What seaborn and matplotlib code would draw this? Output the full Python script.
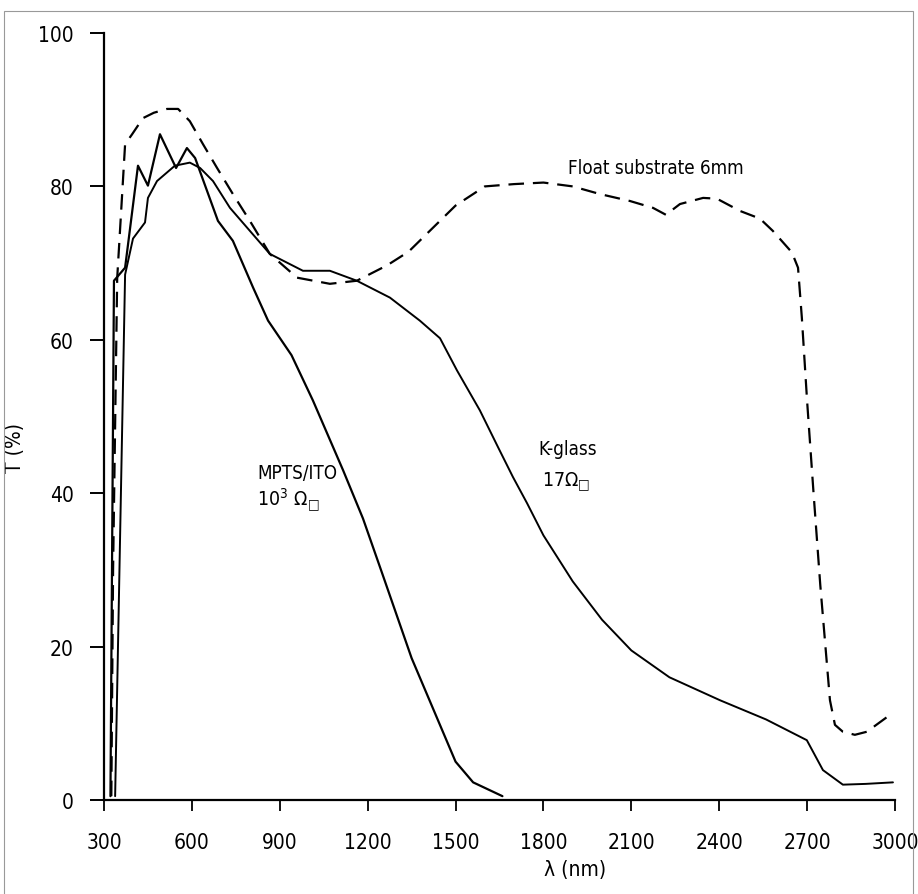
import numpy as np
import pandas as pd
import matplotlib
matplotlib.use("Agg")
import matplotlib.pyplot as plt
import seaborn as sns
from matplotlib.patches import Rectangle

# --- data (wavelength nm, transmission %) ---
float_x = [325, 331, 345, 372, 396, 433, 470, 515, 553, 593, 638, 686, 740, 798,
           866, 959, 1071, 1163, 1266, 1340, 1420, 1500, 1600, 1700, 1800, 1900,
           1993, 2095, 2174, 2218, 2266, 2345, 2392, 2471, 2539, 2583, 2648, 2669,
           2682, 2700, 2722, 2745, 2778, 2795, 2822, 2863, 2904, 2983]
float_y = [0.5, 30, 68, 85.5, 86.8, 88.9, 89.6, 90.1, 90.1, 88.5, 85.5, 82.4, 79.0,
           75.5, 71.2, 68.1, 67.3, 67.7, 69.7, 71.5, 74.5, 77.5, 80.0, 80.3, 80.5,
           80.0, 79.0, 78.1, 77.2, 76.3, 77.7, 78.5, 78.4, 76.8, 75.8, 74.2, 71.4,
           69.4, 62.9, 52, 40, 28, 13.0, 9.8, 8.9, 8.5, 8.9, 11.1]

mpts_x = [322, 334, 372, 416, 450, 491, 546, 583, 611, 689, 740, 809, 860, 940,
          1013, 1116, 1184, 1250, 1300, 1350, 1400, 1450, 1500, 1560, 1660]
mpts_y = [0.5, 67.7, 69.4, 82.7, 80.1, 86.8, 82.4, 85.0, 83.7, 75.5, 72.9, 66.8,
          62.5, 58.0, 52.1, 43.0, 36.7, 29.5, 24.0, 18.5, 14.0, 9.5, 5.0, 2.3, 0.5]

kglass_x = [338, 372, 399, 440, 450, 481, 542, 593, 628, 672, 730, 798, 866, 979,
            1071, 1163, 1276, 1378, 1447, 1505, 1583, 1645, 1696, 1744, 1800, 1900,
            2000, 2100, 2230, 2403, 2560, 2699, 2754, 2822, 2900, 2993]
kglass_y = [0.5, 68.5, 73.2, 75.3, 78.5, 80.7, 82.7, 83.1, 82.4, 80.7, 77.2, 74.2,
            71.2, 69.0, 69.0, 67.7, 65.5, 62.5, 60.2, 56.0, 50.8, 46.0, 42.1, 38.7,
            34.5, 28.5, 23.5, 19.5, 16.0, 13.0, 10.5, 7.8, 3.9, 2.0, 2.1, 2.3]

x_ticks = [300, 600, 900, 1200, 1500, 1800, 2100, 2400, 2700, 3000]
y_ticks = [0, 20, 40, 60, 80, 100]

# --- style ---
sns.set_theme(style="ticks")
plt.rcParams["font.family"] = ["DejaVu Sans"]
plt.rcParams["font.stretch"] = "condensed"
plt.rcParams["mathtext.fontset"] = "dejavusans"
plt.rcParams["text.color"] = "black"
plt.rcParams["axes.labelcolor"] = "black"

fig = plt.figure(figsize=(9.18, 8.95), dpi=100)
ax = fig.add_axes([104 / 918, 1 - 801 / 895, 791 / 918, 767 / 895])

df_float = pd.DataFrame({"x": float_x, "y": float_y})
df_mpts = pd.DataFrame({"x": mpts_x, "y": mpts_y})
df_kglass = pd.DataFrame({"x": kglass_x, "y": kglass_y})

sns.lineplot(data=df_float, x="x", y="y", ax=ax, color="black", lw=1.6, sort=False)
ax.lines[-1].set_dashes([7, 4])
sns.lineplot(data=df_mpts, x="x", y="y", ax=ax, color="black", lw=1.6, sort=False)
sns.lineplot(data=df_kglass, x="x", y="y", ax=ax, color="black", lw=1.4, sort=False)

ax.set_xlim(300, 3000)
ax.set_ylim(0, 100)
ax.set_xticks(x_ticks)
ax.set_yticks(y_ticks)
sns.despine(ax=ax)
for s in ["left", "bottom"]:
    ax.spines[s].set_linewidth(1.6)
    ax.spines[s].set_color("black")
ax.tick_params(axis="x", direction="out", length=8, width=1.3, pad=15,
               labelsize=15, colors="black")
ax.tick_params(axis="y", direction="out", length=10, width=1.4, pad=12,
               labelsize=15, colors="black")

ax.set_xlabel("λ (nm)", fontsize=15)
ax.xaxis.set_label_coords(0.595, -0.077)
ax.set_ylabel("T (%)", fontsize=15, va="center")
ax.yaxis.set_label_coords(-0.112, 0.46)

box = "\u25a1"
ax.text(1885, 82.4, "Float substrate 6mm", fontsize=13.5, va="center", ha="left")
ax.text(1781, 45.8, "K-glass", fontsize=13.5, va="center", ha="left")
ax.text(1795, 41.7, "17$\\Omega_{\\mathrm{" + box + "}}$", fontsize=14,
        va="center", ha="left")
ax.text(822, 42.7, "MPTS/ITO", fontsize=13.5, va="center", ha="left")
ax.text(822, 39.3, "10$^3$ $\\Omega_{\\mathrm{" + box + "}}$", fontsize=14,
        va="center", ha="left")

# scanned page frame (bottom edge falls outside the image)
fig.patches.append(Rectangle((4 / 918, -10 / 895), 909 / 918, 893 / 895,
                             transform=fig.transFigure, fill=False,
                             edgecolor="#999999", lw=0.8))

fig.savefig("out.png", dpi=100, facecolor="white")
